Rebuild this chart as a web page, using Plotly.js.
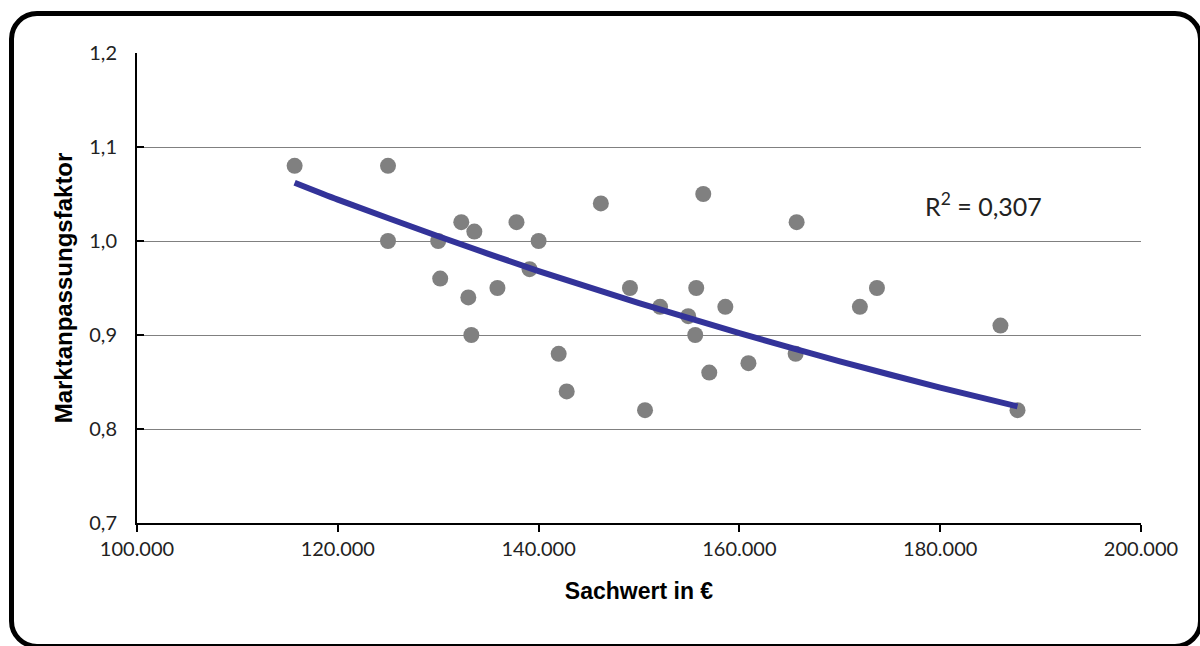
<!DOCTYPE html>
<html>
<head>
<meta charset="utf-8">
<script src="https://cdn.plot.ly/plotly-3.0.1.min.js"></script>
<style>
  html, body { margin: 0; padding: 0; background: #ffffff; }
  #frame {
    position: absolute; left: 9px; top: 11px; width: 1194px; height: 638px;
    box-sizing: border-box; border: 5px solid #000; border-radius: 28px;
  }
  #chart { position: absolute; left: 0; top: 0; width: 1200px; height: 646px; }
</style>
</head>
<body>
<div id="frame"></div>
<div id="chart"></div>
<script>
// Data
const sachwert = [115700, 125000, 125000, 130000, 132300, 133600, 137800, 140000, 139100, 130200,
                  135900, 133000, 133300, 142000, 142800, 146200, 156400, 165700, 149100, 155700,
                  173700, 152100, 158600, 172000, 154900, 155600, 165600, 160900, 157000, 150600,
                  186000, 187700];
const faktor   = [1.08, 1.08, 1.00, 1.00, 1.02, 1.01, 1.02, 1.00, 0.97, 0.96,
                  0.95, 0.94, 0.90, 0.88, 0.84, 1.04, 1.05, 1.02, 0.95, 0.95,
                  0.95, 0.93, 0.93, 0.93, 0.92, 0.90, 0.88, 0.87, 0.86, 0.82,
                  0.91, 0.82];
// Trendline (logarithmic)
const trendX = [115700, 120000, 130000, 140000, 150000, 160000, 170000, 180000, 187700];
const trendY = [1.062, 1.044, 1.005, 0.968, 0.934, 0.902, 0.872, 0.844, 0.824];
const xTickVals = [100000, 120000, 140000, 160000, 180000, 200000];
const xTickText = ['100.000', '120.000', '140.000', '160.000', '180.000', '200.000'];
const yTickVals = [0.7, 0.8, 0.9, 1.0, 1.1, 1.2];
const yTickText = ['0,7', '0,8', '0,9', '1,0', '1,1', '1,2'];
const r2Label = 'R<sup>2</sup> = 0,307';

const tickFont = { family: 'Lato, "Open Sans", sans-serif', size: 20, color: '#222' };
const xTitleFont = { family: '"Liberation Sans", Arial, sans-serif', size: 23, color: '#000', weight: 'bold' };
const yTitleFont = { family: '"Liberation Sans", Arial, sans-serif', size: 24, color: '#000', weight: 'bold' };

const data = [
  { type: 'scatter', mode: 'markers', x: sachwert, y: faktor,
    marker: { color: '#808080', size: 16, line: { width: 0 } }, hoverinfo: 'x+y' },
  { type: 'scatter', mode: 'lines', x: trendX, y: trendY,
    line: { color: '#333399', width: 6, shape: 'spline', smoothing: 0.6 }, hoverinfo: 'skip' }
];

const layout = {
  width: 1200, height: 646,
  margin: { l: 137, r: 59, t: 53, b: 123 },
  paper_bgcolor: 'rgba(0,0,0,0)', plot_bgcolor: 'rgba(0,0,0,0)',
  showlegend: false,
  xaxis: {
    range: [100000, 200000], tickvals: xTickVals, ticktext: xTickText,
    showgrid: false, zeroline: false,
    showline: true, linecolor: '#000', linewidth: 2,
    ticks: 'outside', ticklen: 7, tickwidth: 2, tickcolor: '#000',
    tickfont: tickFont,
    title: { text: 'Sachwert in €', font: xTitleFont, standoff: 24 }
  },
  yaxis: {
    range: [0.7, 1.2], tickvals: yTickVals, ticktext: yTickText,
    showgrid: true, gridcolor: '#808080', gridwidth: 1, zeroline: false,
    showline: true, linecolor: '#000', linewidth: 2,
    ticks: 'inside', ticklen: 7, tickwidth: 2, tickcolor: '#000',
    ticklabelstandoff: 14,
    tickfont: tickFont,
    title: { text: 'Marktanpassungsfaktor', font: yTitleFont, standoff: 10 }
  },
  annotations: [
    { xref: 'paper', yref: 'paper', x: 0.8436, y: 0.6766, xanchor: 'center', yanchor: 'middle',
      text: r2Label, showarrow: false, font: { family: 'Lato, "Open Sans", sans-serif', size: 25, color: '#222' } }
  ]
};

Plotly.newPlot('chart', data, layout, { displayModeBar: false, staticPlot: true });
</script>
</body>
</html>
